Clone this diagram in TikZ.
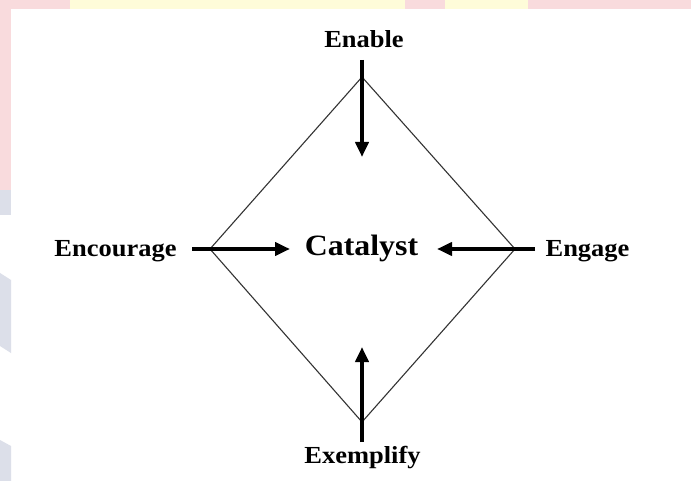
\documentclass[tikz,border=0pt]{standalone}
\usepackage{fontspec}
\setmainfont{Liberation Serif}[FakeStretch=1.08]
\usetikzlibrary{arrows.meta}
\definecolor{bgpink}{HTML}{F9DBDD}
\definecolor{bgyellow}{HTML}{FEFCD9}
\definecolor{bgblue}{HTML}{DCDFE9}
\definecolor{edgegray}{HTML}{333333}
\tikzset{
  lbl/.style={font=\bfseries\fontsize{24.5}{28}\selectfont, inner sep=0pt, anchor=base},
  centrelbl/.style={font=\bfseries\fontsize{29.5}{33}\selectfont, inner sep=0pt, anchor=base},
  bigarrow/.style={line width=4pt, -{Triangle[width=13pt,length=15pt]}},
  rhomb/.style={draw=edgegray, line width=1.1pt, line join=miter}
}
\begin{document}
\begin{tikzpicture}[x=1pt,y=-1pt]
\useasboundingbox (0,0) rectangle (691,481);
% background watermark strips
\fill[white] (0,0) rectangle (691,481);
\fill[bgpink] (0,0) rectangle (691,9);
\fill[bgyellow] (70,0) rectangle (405,9);
\fill[bgyellow] (445,0) rectangle (528,9);
\fill[bgpink] (0,0) rectangle (11,190);
\fill[bgblue] (0,190) rectangle (11,215);
\fill[bgblue] (0,273) -- (11,280) -- (11,353) -- (0,346) -- cycle;
\fill[bgblue] (0,440) -- (11,446) -- (11,481) -- (0,481) -- cycle;
% diamond vertices
\coordinate (dtop) at (362,77);
\coordinate (dright) at (515,249);
\coordinate (dbottom) at (362,422);
\coordinate (dleft) at (210,249);
\draw[rhomb] (dtop) -- (dright) -- (dbottom) -- (dleft) -- cycle;
% labels
\node[lbl] (enable) at (364,48) {Enable};
\node[lbl] (encourage) at (115.5,257) {Encourage};
\node[lbl] (engage) at (587.5,257) {Engage};
\node[lbl] (exemplify) at (362.5,463) {Exemplify};
\node[centrelbl] (catalyst) at (361.5,256) {Catalyst};
% arrow ends
\coordinate (enabletail) at (362,60);
\coordinate (enabletip) at (362,157);
\coordinate (encouragetail) at (192,249);
\coordinate (encouragetip) at (290,249);
\coordinate (engagetail) at (535,249);
\coordinate (engagetip) at (437,249);
\coordinate (exemplifytail) at (362,442);
\coordinate (exemplifytip) at (362,347);
\draw[bigarrow] (enabletail) -- (enabletip);
\draw[bigarrow] (encouragetail) -- (encouragetip);
\draw[bigarrow] (engagetail) -- (engagetip);
\draw[bigarrow] (exemplifytail) -- (exemplifytip);
\end{tikzpicture}
\end{document}
